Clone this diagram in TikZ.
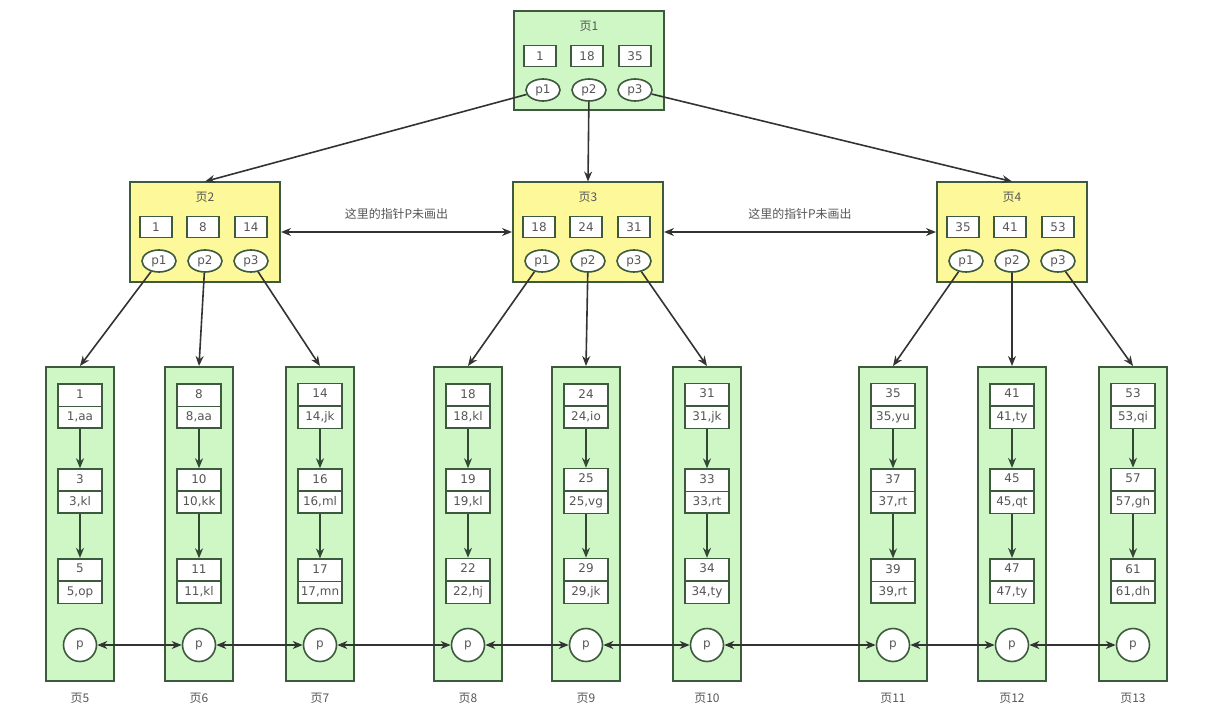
\documentclass[tikz,border=0pt]{standalone}
\usepackage{fontspec}
\setmainfont{DejaVu Sans}
\newfontfamily\cjk{Noto Sans CJK SC}
\usetikzlibrary{arrows.meta,shapes.geometric,shapes.multipart}

\definecolor{edge}{HTML}{3E5A3E}
\definecolor{arr}{HTML}{333333}
\definecolor{leafg}{HTML}{CFF7C6}
\definecolor{inner}{HTML}{FDF99A}
\definecolor{txt}{HTML}{555555}

\begin{document}
\begin{tikzpicture}[
  x=1bp, y=-1bp,
  >={Stealth[length=10bp,width=8bp]},
  font=\fontsize{12}{14}\selectfont, text=txt,
  page/.style={draw=edge,fill=#1,line width=2bp,minimum width=150bp,minimum height=99bp},
  leaf/.style={draw=edge,fill=leafg,line width=2bp,minimum width=68bp,minimum height=314bp},
  key/.style={draw=edge,fill=white,line width=1.6bp,minimum width=32bp,minimum height=21bp,inner sep=0pt},
  ptr/.style={draw=edge,fill=white,ellipse,line width=1.6bp,minimum width=34bp,minimum height=22bp,inner sep=0pt},
  pnode/.style={draw=edge,fill=white,circle,line width=1.6bp,minimum size=33bp,inner sep=0pt},
  rec/.style={draw=edge,fill=white,rectangle split,rectangle split parts=2,line width=1.6bp,
    minimum width=44bp,text height=8.5bp,text depth=2.5bp,inner ysep=4.8bp,inner xsep=2bp},
  lab/.style={font=\cjk\fontsize{12}{14}\selectfont,text=txt},
  down/.style={->,line width=1.6bp,arr},
  chain/.style={->,line width=1.6bp,edge!80!black},
  link/.style={<->,line width=1.6bp,arr}]

  \useasboundingbox (0,0) rectangle (1219,716);

  % ---- index pages ----
  \foreach \n/\cx/\cy/\col/\ka/\kb/\kc in {1/589/61/leafg/1/18/35, 2/205/232/inner/1/8/14,
      3/588/232/inner/18/24/31, 4/1012/232/inner/35/41/53}{
    \node[page=\col] (pg\n) at (\cx,\cy) {};
    \node[lab] (pg\n-t) at (\cx,\cy-35) {页\n};
    \node[key] (pg\n-ka) at (\cx-49,\cy-5) {\ka};
    \node[key] (pg\n-kb) at (\cx-2,\cy-5) {\kb};
    \node[key] (pg\n-kc) at (\cx+46,\cy-5) {\kc};
    \node[ptr] (pg\n-p1) at (\cx-46,\cy+29) {p1};
    \node[ptr] (pg\n-p2) at (\cx,\cy+29) {p2};
    \node[ptr] (pg\n-p3) at (\cx+46,\cy+29) {p3};
  }

  \draw[down] (pg1-p1) -- (pg2.north);
  \draw[down] (pg1-p2) -- (pg3.north);
  \draw[down] (pg1-p3) -- (pg4.north);

  \draw[link] (pg2) -- (pg3) node[lab,midway,above=8bp] {这里的指针P未画出};
  \draw[link] (pg3) -- (pg4) node[lab,midway,above=8bp] {这里的指针P未画出};

  % ---- leaf pages ----
  \foreach \n/\cx/\a/\as/\b/\bs/\c/\cs in {5/80/1/aa/3/kl/5/op, 6/199/8/aa/10/kk/11/kl,
      7/320/14/jk/16/ml/17/mn, 8/468/18/kl/19/kl/22/hj, 9/586/24/io/25/vg/29/jk,
      10/707/31/jk/33/rt/34/ty, 11/893/35/yu/37/rt/39/rt, 12/1012/41/ty/45/qt/47/ty,
      13/1133/53/qi/57/gh/61/dh}{
    \node[leaf] (lf\n) at (\cx,524) {};
    \node[rec] (lf\n-a) at (\cx,406) {\a\nodepart{two}\a,\as};
    \node[rec] (lf\n-b) at (\cx,491) {\b\nodepart{two}\b,\bs};
    \node[rec] (lf\n-c) at (\cx,581) {\c\nodepart{two}\c,\cs};
    \node[pnode] (lf\n-p) at (\cx,645) {p};
    \node[lab] (lf\n-t) at (\cx,698) {页\n};
    \draw[chain] (lf\n-a) -- (lf\n-b);
    \draw[chain] (lf\n-b) -- (lf\n-c);
  }

  % parent pointers -> leaves
  \foreach \pg/\i/\lf in {2/1/5, 2/2/6, 2/3/7, 3/1/8, 3/2/9, 3/3/10, 4/1/11, 4/2/12, 4/3/13}
    \draw[down] (pg\pg-p\i) -- (lf\lf.north);

  % sibling links
  \foreach \i [evaluate=\i as \j using int(\i+1)] in {5,...,12}
    \draw[link] (lf\i-p) -- (lf\j-p);
\end{tikzpicture}
\end{document}
